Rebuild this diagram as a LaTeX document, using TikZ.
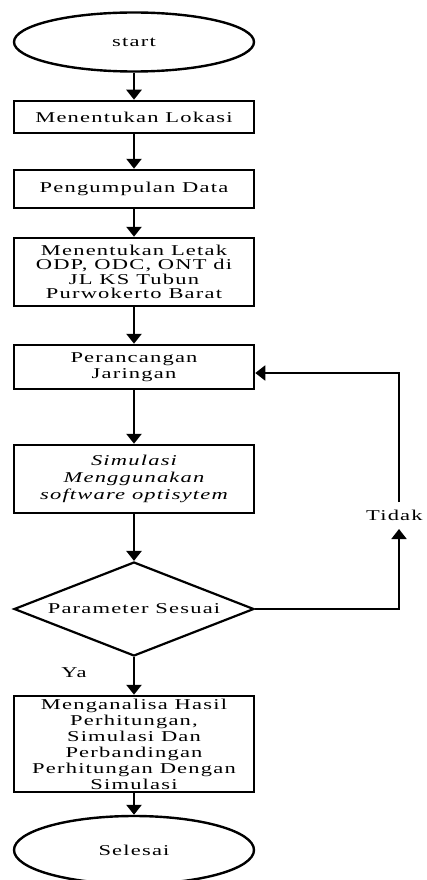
\documentclass[tikz,border=0pt]{standalone}
\usepackage{fontspec}
\setmainfont{Liberation Serif}[FakeStretch=1.5,LetterSpace=8]
\usetikzlibrary{shapes.geometric,arrows.meta}
\begin{document}
\begin{tikzpicture}[x=1pt,y=-1pt,
  lbl/.style={font=\fontsize{15}{16}\selectfont},
  box/.style={draw,line width=2.5pt,minimum width=240pt,inner sep=0pt,align=center,font=\fontsize{15}{16}\selectfont},
  term/.style={draw,ellipse,line width=2.4pt,minimum width=240pt,inner sep=0pt,font=\fontsize{15}{16}\selectfont},
  arr/.style={line width=2.5pt,-{Triangle[width=15pt,length=10pt]}},
  farr/.style={line width=1.8pt,-{Triangle[width=15pt,length=10pt]}},
]
\useasboundingbox (0,0) rectangle (426,880);
\node[term, minimum height=59pt] (start) at (134,42) {start};
\node[box, minimum height=32pt] (b1) at (134,117) {Menentukan Lokasi};
\node[box, minimum height=38pt] (b2) at (134,189) {Pengumpulan Data};
\node[box, minimum height=68pt, font=\fontsize{15}{14.4}\selectfont] (b3) at (134,272) {Menentukan Letak\\ODP, ODC, ONT di\\JL KS Tubun\\Purwokerto Barat};
\node[box, minimum height=44pt] (b4) at (134,367) {Perancangan\\Jaringan};
\node[box, minimum height=68pt, font=\fontsize{15}{16.7}\selectfont\itshape] (b5) at (134,479) {Simulasi\\Menggunakan\\software optisytem};
\node[draw, diamond, line width=2.2pt, inner sep=0pt, minimum width=240pt, minimum height=94pt] (d) at (134,609) {};
\node[lbl] (dl) at (d.center) {Parameter Sesuai};
\node[box, minimum height=96pt, font=\fontsize{15}{16}\selectfont] (b6) at (134,744) {Menganalisa Hasil\\Perhitungan,\\Simulasi Dan\\Perbandingan\\Perhitungan Dengan\\Simulasi};
\node[term, minimum height=68pt] (end) at (134,850) {Selesai};
\node[lbl] (ya) at (74,673) {Ya};
\node[lbl, anchor=west, inner sep=0pt] (tidak) at (366,515) {Tidak};
\coordinate (ft) at (399,529);
\coordinate (fb) at (399,502);
\coordinate (fu) at (399,373);
\draw[arr] (start) -- (b1);
\draw[arr] (b1) -- (b2);
\draw[arr] (b2) -- (b3);
\draw[arr] (b3) -- (b4);
\draw[arr] (b4) -- (b5);
\draw[arr] (b5) -- (d);
\draw[arr] (d) -- (b6);
\draw[arr] (b6) -- (end);
\draw[farr] (d.east) -| (ft);
\draw[farr] (fb) -- (fu) -- (fu -| b4.east);
\end{tikzpicture}
\end{document}
